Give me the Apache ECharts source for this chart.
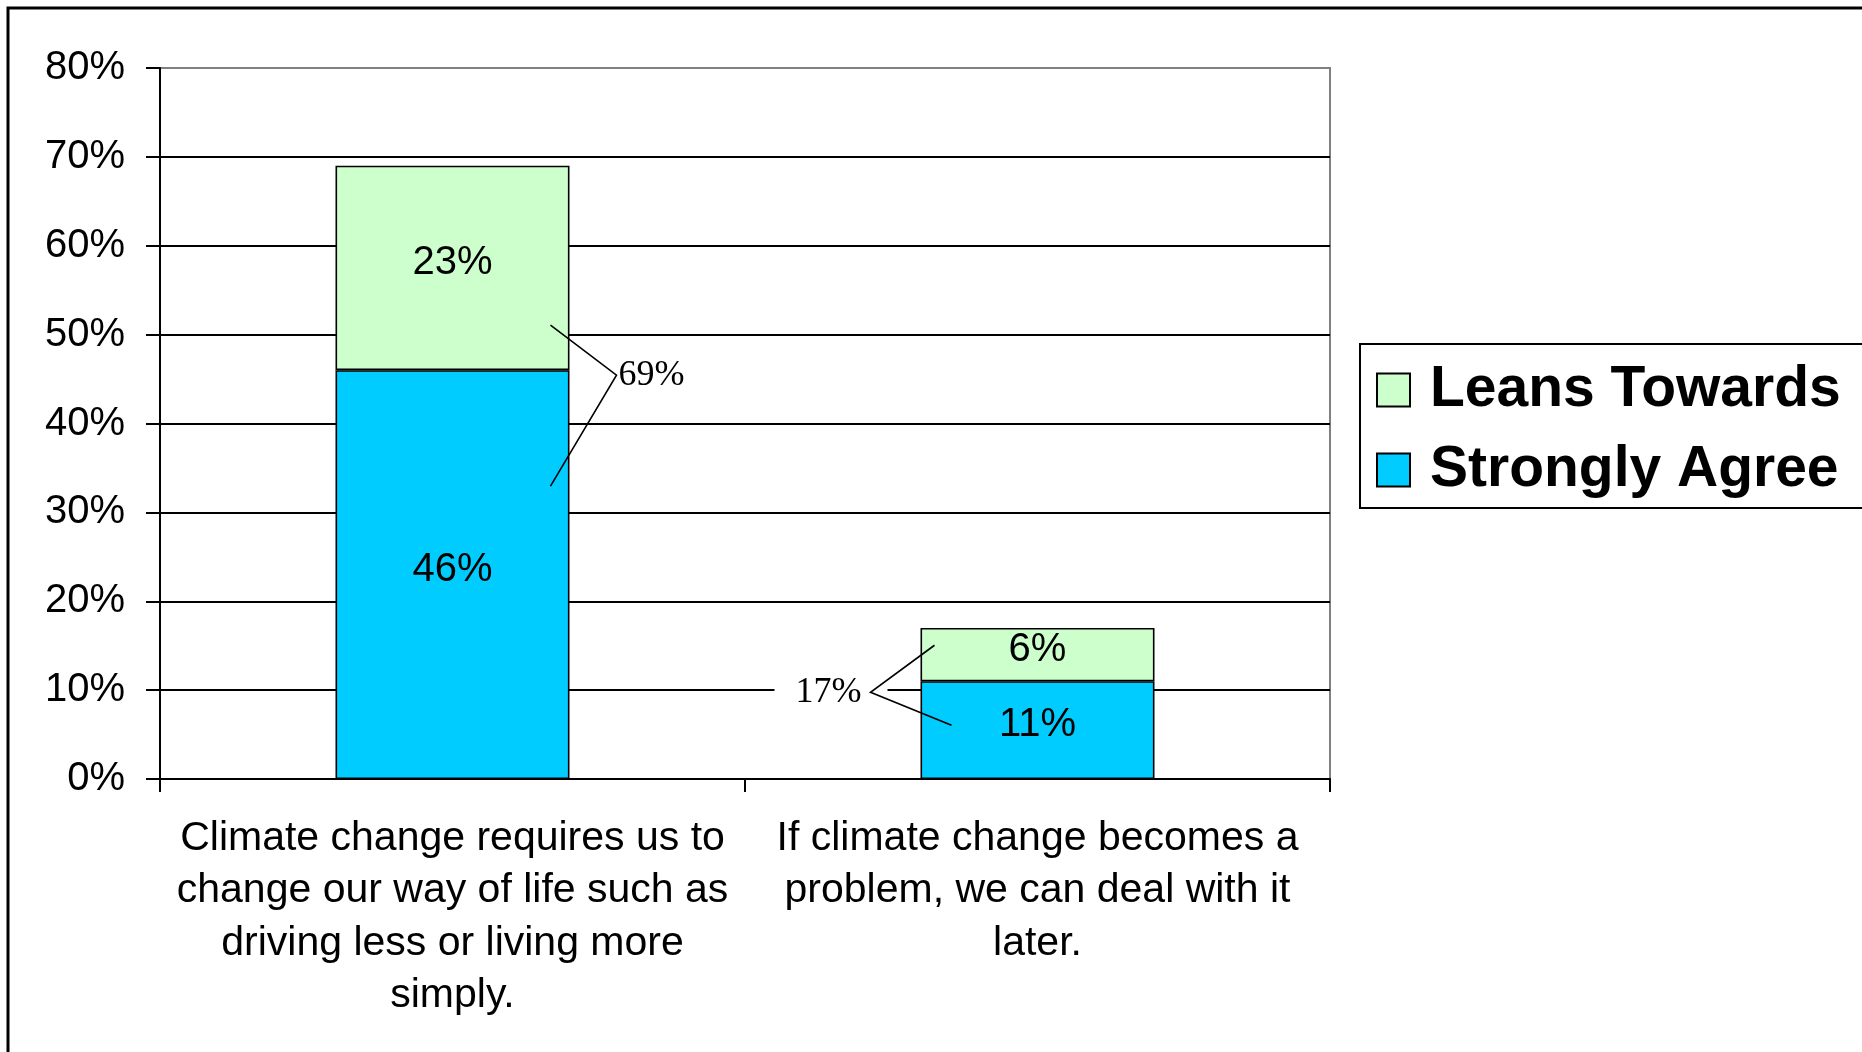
<!DOCTYPE html>
<html><head><meta charset="utf-8">
<script src="https://cdn.jsdelivr.net/npm/echarts@6/dist/echarts.min.js"></script>
<style>html,body{margin:0;padding:0;background:#fff}#c{width:1862px;height:1052px}</style>
</head><body><div id="c"></div>
<script>
// ---- data ----
const categories = [
  "Climate change requires us to\nchange our way of life such as\ndriving less or living more\nsimply.",
  "If climate change becomes a\nproblem, we can deal with it\nlater."
];
const seriesNames = ["Strongly Agree", "Leans Towards"];
const stronglyAgree = [46, 11];
const leansTowards = [23, 6];
const totals = [69, 17];
const yMin = 0, yMax = 80, yStep = 10;

const SANS = "'Liberation Sans', Arial, sans-serif";
const SERIF = "'Liberation Serif', 'Times New Roman', serif";
const BLUE = '#00CCFF', GREEN = '#CCFFCC';

const chart = echarts.init(document.getElementById('c'), null, {renderer: 'canvas'});

const splitColors = [];
for (let v = yMin; v <= yMax; v += yStep) splitColors.push(v === yMax ? '#808080' : '#000000');

const barLabel = {
  show: true, position: 'inside', formatter: '{c}%',
  fontFamily: SANS, fontSize: 40, color: '#000', offset: [0, -5]
};

chart.setOption({
  animation: false,
  backgroundColor: '#fff',
  grid: {left: 160, right: 532, top: 68, bottom: 273, show: true,
         borderColor: '#808080', borderWidth: 2, backgroundColor: 'transparent'},
  legend: {
    data: ['Leans Towards', 'Strongly Agree'],
    orient: 'vertical', left: 1360, top: 344,
    padding: [8, 60, 0, 16],
    borderColor: '#000', borderWidth: 2, backgroundColor: '#fff',
    itemWidth: 33, itemHeight: 33, itemGap: 4,
    icon: 'rect',
    itemStyle: {borderColor: '#000', borderWidth: 2},
    textStyle: {fontFamily: SANS, fontWeight: 'bold', fontSize: 57, color: '#000',
                lineHeight: 56, padding: [0, 0, 20, 15]}
  },
  xAxis: {
    type: 'category', data: categories, boundaryGap: true,
    axisLine: {lineStyle: {color: '#000', width: 2}},
    axisTick: {show: true, length: 13, lineStyle: {color: '#000', width: 2}},
    axisLabel: {interval: 0, margin: 33, fontFamily: SANS, fontSize: 41, lineHeight: 52.5, color: '#000', align: 'center'},
    splitLine: {show: false}
  },
  yAxis: {
    type: 'value', min: yMin, max: yMax, interval: yStep,
    axisLine: {show: true, lineStyle: {color: '#000', width: 2}},
    axisTick: {show: true, length: 14, lineStyle: {color: '#000', width: 2}},
    axisLabel: {formatter: '{value}%', margin: 35, fontFamily: SANS, fontSize: 40, color: '#000'},
    splitLine: {show: true, lineStyle: {color: splitColors, width: 2}}
  },
  series: [
    {name: seriesNames[0], type: 'bar', stack: 'all', barWidth: '40%', data: stronglyAgree,
     itemStyle: {color: BLUE, borderColor: '#000', borderWidth: 1.6}, label: barLabel},
    {name: seriesNames[1], type: 'bar', stack: 'all', barWidth: '40%', data: leansTowards,
     itemStyle: {color: GREEN, borderColor: '#000', borderWidth: 1.6}, label: barLabel}
  ]
});

// ---- total callouts with bracket lines, positioned from the axes ----
function px(cat, val) { return chart.convertToPixel({gridIndex: 0}, [cat, val]); }
const band = px(1, 0)[0] - px(0, 0)[0];
const bw = band * 0.4;
const g = [];
// outer chart frame
g.push({type: 'rect', shape: {x: 8, y: 8, width: 3000, height: 3000},
        style: {fill: null, stroke: '#000', lineWidth: 3}, z: 100});

const lineStyle = {stroke: '#000', lineWidth: 1.6};
// callout 0: right side of first bar
(function () {
  const c = 0;
  const xc = px(c, 0)[0];
  const right = xc + bw / 2;
  const ySplit = px(c, stronglyAgree[c])[1];
  const piv = [right + 47, ySplit + 5];
  const a = [right - 19, piv[1] - 50];
  const b = [right - 19, piv[1] + 111];
  g.push({type: 'polyline', shape: {points: [a, piv, b]}, style: Object.assign({fill: null}, lineStyle), z: 50});
  g.push({type: 'text', x: piv[0] + 2, y: piv[1],
          style: {text: totals[c] + '%', font: '36px ' + SERIF, fill: '#000', textAlign: 'left', textVerticalAlign: 'middle'}, z: 51});
})();
// callout 1: left side of second bar
(function () {
  const c = 1;
  const xc = px(c, 0)[0];
  const left = xc - bw / 2;
  const ySplit = px(c, stronglyAgree[c])[1];
  const piv = [left - 50, ySplit + 11];
  const a = [left + 14, piv[1] - 47];
  const b = [left + 31, piv[1] + 33];
  g.push({type: 'rect', shape: {x: piv[0] - 96, y: piv[1] - 14, width: 113, height: 28},
          style: {fill: '#fff'}, z: 49});
  g.push({type: 'polyline', shape: {points: [a, piv, b]}, style: Object.assign({fill: null}, lineStyle), z: 50});
  g.push({type: 'text', x: piv[0] - 9, y: piv[1],
          style: {text: totals[c] + '%', font: '36px ' + SERIF, fill: '#000', textAlign: 'right', textVerticalAlign: 'middle'}, z: 51});
})();
chart.setOption({graphic: g});
</script>
</body></html>
